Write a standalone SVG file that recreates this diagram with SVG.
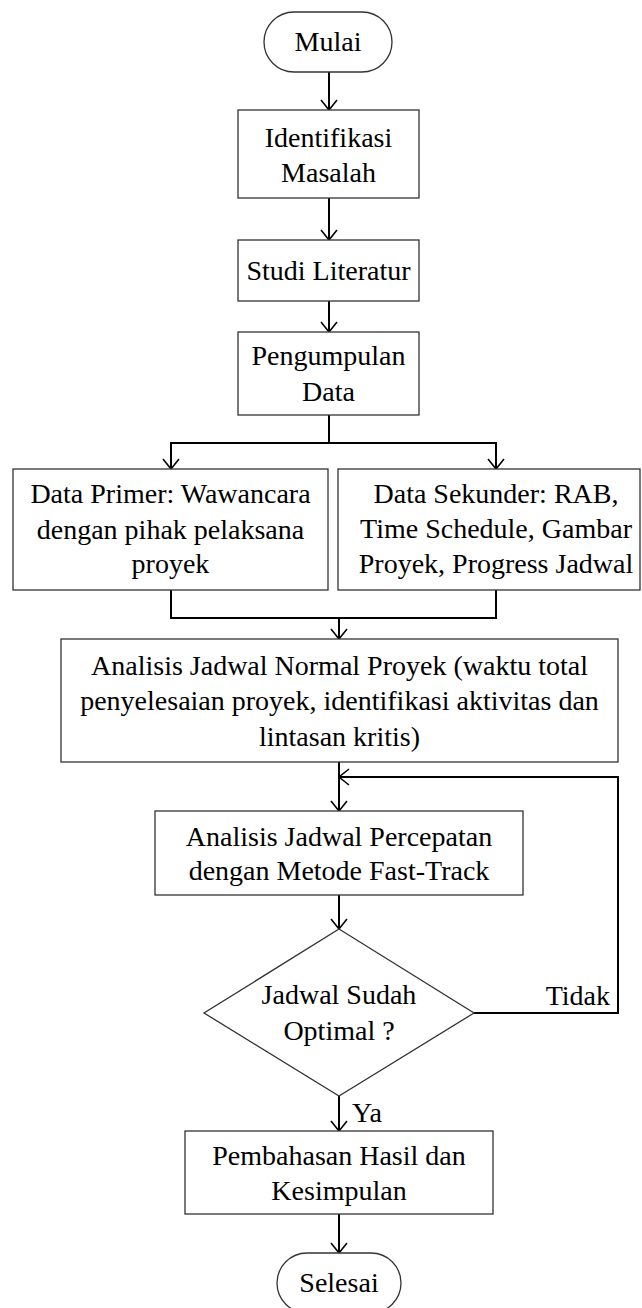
<svg xmlns="http://www.w3.org/2000/svg" width="642" height="1308" viewBox="0 0 642 1308">
<style>
.n{fill:#fff;stroke:#333;stroke-width:1.3}
.c{fill:none;stroke:#000;stroke-width:2}
.h{fill:none;stroke:#000;stroke-width:1.6}
text{font-family:"Liberation Serif","Times New Roman",serif;font-size:28px;fill:#000;text-anchor:middle}
</style>
<rect width="642" height="1308" fill="#fff"/>
<g id="connectors">
<path class="c" d="M329 72V110"/>
<path class="c" d="M329 198V240"/>
<path class="c" d="M329 301V332"/>
<path class="c" d="M329 415V443M171 469V443H496V469"/>
<path class="c" d="M171 590V618H496V590M339 618V639"/>
<path class="c" d="M339 762V811"/>
<path class="c" d="M339 895V929"/>
<path class="c" d="M474 1013H618V777H339"/>
<path class="c" d="M339 1096V1131"/>
<path class="c" d="M339 1214V1253"/>
<path class="h" d="M321 100L329 110L337 100"/>
<path class="h" d="M321 230L329 240L337 230"/>
<path class="h" d="M321 322L329 332L337 322"/>
<path class="h" d="M163 459L171 469L179 459"/>
<path class="h" d="M488 459L496 469L504 459"/>
<path class="h" d="M331 629L339 639L347 629"/>
<path class="h" d="M331 801L339 811L347 801"/>
<path class="h" d="M349 769L339 777L349 785"/>
<path class="h" d="M331 919L339 929L347 919"/>
<path class="h" d="M331 1121L339 1131L347 1121"/>
<path class="h" d="M331 1243L339 1253L347 1243"/>
<text x="610" y="1005" style="text-anchor:end">Tidak</text>
<text x="352" y="1122" style="text-anchor:start">Ya</text>
</g>
<g id="mulai">
<rect class="n" x="264" y="12" width="128" height="60" rx="30"/>
<text x="328" y="51">Mulai</text>
</g>
<g id="identifikasi">
<rect class="n" x="238" y="110" width="181" height="88"/>
<text x="328.5" y="147">Identifikasi</text>
<text x="328.5" y="182">Masalah</text>
</g>
<g id="studi">
<rect class="n" x="238" y="240" width="181" height="61"/>
<text x="328.5" y="280">Studi Literatur</text>
</g>
<g id="pengumpulan">
<rect class="n" x="238" y="332" width="181" height="83"/>
<text x="328.5" y="365">Pengumpulan</text>
<text x="328.5" y="401">Data</text>
</g>
<g id="primer">
<rect class="n" x="13" y="469" width="315" height="121"/>
<text x="170.5" y="503">Data Primer: Wawancara</text>
<text x="170.5" y="539">dengan pihak pelaksana</text>
<text x="170.5" y="573">proyek</text>
</g>
<g id="sekunder">
<rect class="n" x="338" y="469" width="302" height="121"/>
<text x="496" y="503">Data Sekunder: RAB,</text>
<text x="496" y="538">Time Schedule, Gambar</text>
<text x="496" y="573">Proyek, Progress Jadwal</text>
</g>
<g id="normal">
<rect class="n" x="61" y="639" width="557" height="123"/>
<text x="339.5" y="675">Analisis Jadwal Normal Proyek (waktu total</text>
<text x="339.5" y="710">penyelesaian proyek, identifikasi aktivitas dan</text>
<text x="339.5" y="746">lintasan kritis)</text>
</g>
<g id="percepatan">
<rect class="n" x="155" y="811" width="368" height="84"/>
<text x="339" y="846">Analisis Jadwal Percepatan</text>
<text x="339" y="880">dengan Metode Fast-Track</text>
</g>
<g id="optimal">
<polygon class="n" points="339,929 474,1013 339,1096 204,1013"/>
<text x="339" y="1004">Jadwal Sudah</text>
<text x="339" y="1040">Optimal ?</text>
</g>
<g id="pembahasan">
<rect class="n" x="185" y="1131" width="308" height="83"/>
<text x="339" y="1165">Pembahasan Hasil dan</text>
<text x="339" y="1200">Kesimpulan</text>
</g>
<g id="selesai">
<rect class="n" x="277" y="1253" width="124" height="60" rx="30"/>
<text x="339" y="1292">Selesai</text>
</g>
</svg>
